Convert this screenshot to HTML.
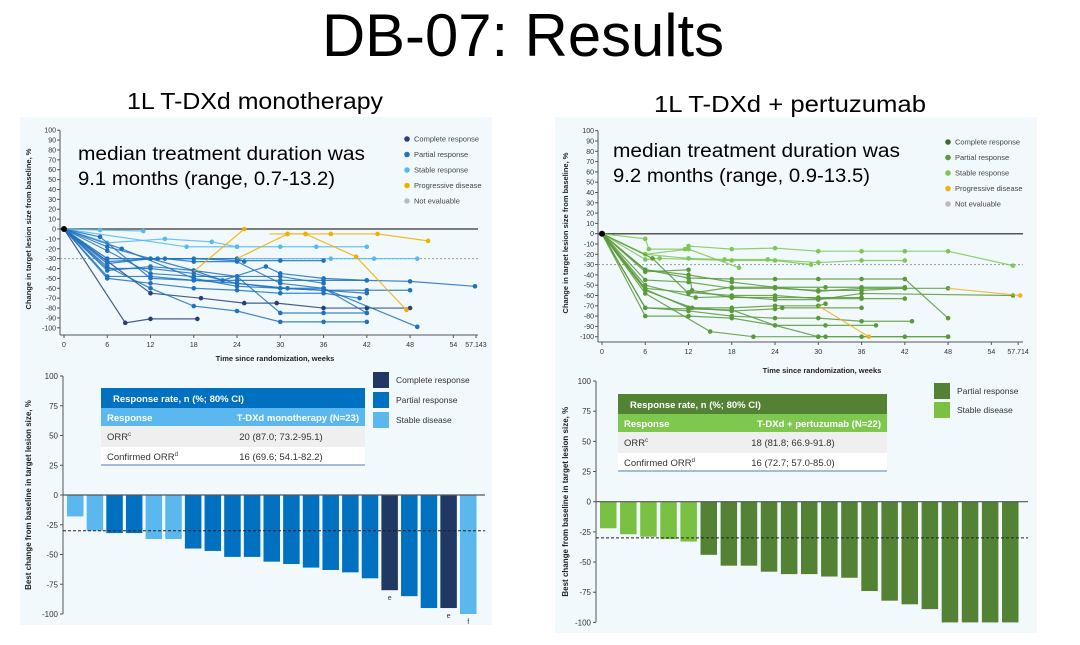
<!DOCTYPE html>
<html><head><meta charset="utf-8"><style>
body{margin:0;background:#fff;width:1080px;height:645px;overflow:hidden;font-family:"Liberation Sans",sans-serif}
svg{display:block}
</style></head><body>
<svg id="s" width="1080" height="645" xmlns="http://www.w3.org/2000/svg" font-family="Liberation Sans, sans-serif">
<rect x="20" y="117" width="472" height="250" fill="#f2f9fd"/>
<rect x="20" y="367" width="472" height="258" fill="#f2f9fd"/>
<rect x="555" y="117" width="482" height="258" fill="#f2f9fd"/>
<rect x="555" y="375" width="482" height="258" fill="#f2f9fd"/>
<text x="523" y="56" font-size="60" text-anchor="middle" fill="#000" textLength="402" lengthAdjust="spacingAndGlyphs">DB-07: Results</text>
<text x="255" y="109" font-size="23" text-anchor="middle" textLength="256" lengthAdjust="spacingAndGlyphs">1L T-DXd monotherapy</text>
<text x="790" y="112" font-size="23" text-anchor="middle" textLength="272" lengthAdjust="spacingAndGlyphs">1L T-DXd + pertuzumab</text>
<g id="g"></g>
</svg>
<script>
const g=document.getElementById('g');let h='';
function T(x,y,t,o){o=o||{};h+=`<text x="${x}" y="${y}" font-size="${o.s||7}" text-anchor="${o.a||'start'}" fill="${o.c||'#333'}" ${o.f?`font-family="${o.f}"`:''} ${o.tl?`textLength="${o.tl}" lengthAdjust="spacingAndGlyphs"`:''} ${o.b?'font-weight="bold"':''} ${o.r?`transform="rotate(-90 ${x} ${y})"`:''}>${t}</text>`;}
function L(x1,y1,x2,y2,c,w,d){h+=`<line x1="${x1}" y1="${y1}" x2="${x2}" y2="${y2}" stroke="${c}" stroke-width="${w||1}" ${d?`stroke-dasharray="${d}"`:''}/>`;}
function spider(o){
 const X=w=>o.x0+w*o.kx, Y=v=>o.y0-v*o.ky;
 L(o.ax,Y(100),o.ax,o.axy,'#555');L(o.ax,o.axy,o.xend,o.axy,'#555');
 for(let v=100;v>=-100;v-=10){L(o.ax-3,Y(v),o.ax,Y(v),'#555');T(o.ax-4,Y(v)+2.5,v,{s:7,a:'end'});}
 const ticks=[0,6,12,18,24,30,36,42,48,54];
 ticks.forEach(t=>{L(X(t),o.axy,X(t),o.axy+3,'#555');T(X(t),o.axy+12,t,{s:7,a:'middle'});});
 L(X(o.last),o.axy,X(o.last),o.axy+3,'#555');T(X(o.last),o.axy+12,o.lastl,{s:7,a:'middle'});
 L(o.ax,Y(0),o.xend,Y(0),'#555',1.5);L(o.ax,Y(-30),o.xend,Y(-30),'#999',1,'2,2');
 o.lines.forEach(([c,p])=>{h+=`<polyline fill="none" stroke="${c}" stroke-width="1.2" opacity="0.85" points="${p.map(q=>X(q[0])+','+Y(q[1])).join(' ')}"/>`;
  p.slice(1).forEach(q=>h+=`<circle cx="${X(q[0])}" cy="${Y(q[1])}" r="2.3" fill="${c}"/>`);});
 h+=`<circle cx="${X(0)}" cy="${Y(0)}" r="3" fill="#000"/>`;
 T(o.tx,o.ty,'Change in target lesion size from baseline, %',{s:7.5,b:1,a:'middle',r:1,c:'#222'});
 T(o.xt,o.xty,'Time since randomization, weeks',{s:7.5,b:1,a:'middle',c:'#222'});
 o.leg.forEach((l,i)=>{h+=`<circle cx="${o.lx}" cy="${o.ly+i*15.5}" r="2.8" fill="${l[0]}"/>`;T(o.lx+7,o.ly+i*15.5+2.5,l[1],{s:7.5,c:'#444'});});
 T(o.mx,o.my,o.m1,{s:19,c:'#000',tl:287});T(o.mx,o.my+25,o.m2,{s:19,c:'#000',tl:257});
}
const B='#1f72c0',LB='#5bb8ee',CR='#283f78',OR='#f0b000';
spider({x0:64,kx:7.21,y0:229,ky:0.988,ax:60,axy:335,xend:478,last:57.143,lastl:'57.143',tx:31,ty:229,xt:275,xty:361,
lx:407,ly:139,mx:78,my:160,m1:'median treatment duration was',m2:'9.1 months (range, 0.7-13.2)',
leg:[[CR,'Complete response'],[B,'Partial response'],[LB,'Stable response'],[OR,'Progressive disease'],['#bbb','Not evaluable']],
lines:[
[CR,[[0,0],[8.5,-95],[12,-91],[18.5,-91]]],
[CR,[[0,0],[12,-65],[19,-70],[25,-75],[29.5,-75],[36,-80],[42,-80],[48,-80]]],
[LB,[[0,0],[5,-1],[11,-2]]],
[LB,[[0,0],[6,-14],[14,-10],[20.5,-13],[24,-18],[30,-18],[35,-18],[42,-18]]],
[LB,[[0,0],[6,-30],[37,-30],[43,-30],[49,-30]]],
[LB,[[0,0],[17,-18],[24,-18]]],
[B,[[0,0],[6,-48],[12,-48],[18,-52],[24,-52],[30,-52],[36,-52],[42,-52],[48,-53],[57,-58]]],
[B,[[0,0],[6,-40],[12,-40],[18,-45],[24,-55],[30,-60],[36,-62],[42,-62],[48,-62]]],
[B,[[0,0],[6,-35],[12,-30],[18,-30],[24,-32],[30,-32],[36,-32]]],
[B,[[0,0],[6,-50],[12,-55],[18,-60],[24,-62],[30,-65],[36,-65],[41,-70]]],
[B,[[0,0],[6,-38],[12,-60],[18,-78],[24,-83],[30,-94],[36,-94],[42,-94]]],
[B,[[0,0],[6,-42],[12,-38],[18,-42],[24,-48],[30,-85],[36,-85],[42,-85]]],
[B,[[0,0],[8,-20],[18,-50],[24,-58],[30,-60],[36,-62],[42,-65]]],
[B,[[0,0],[6,-30],[14,-30],[18,-33],[24,-33],[30,-55],[36,-60],[49,-99]]],
[B,[[0,0],[6,-18],[12,-30],[18,-42],[22,-52],[28,-38],[30,-45],[36,-50],[42,-52]]],
[B,[[0,0],[6,-22],[12,-45],[18,-48],[24,-48],[30,-48],[36,-55]]],
[B,[[0,0],[6,-33],[13,-30],[24,-30],[25,-33]]],
[B,[[0,0],[5,-8],[12,-50],[18,-52],[24,-55],[31,-60],[36,-60],[42,-85]]],
[OR,[[18,-43],[25,0]]],
[OR,[[24,-30],[31,-5],[33.5,-5],[37,-5],[43.5,-5],[50.5,-12]]],
[OR,[[28.5,-5],[31,-5],[33.5,-5],[40.5,-28],[47.5,-82]]]
]});
const G='#5a9a3a',LG='#7dc855',DG='#3d6b2a',OR2='#f5b21b';
spider({x0:602,kx:7.21,y0:233.7,ky:1.03,ax:598,axy:342,xend:1023,last:57.714,lastl:'57.714',tx:568,ty:233,xt:822,xty:373,
lx:948,ly:142,mx:613,my:157,m1:'median treatment duration was',m2:'9.2 months (range, 0.9-13.5)',
leg:[[DG,'Complete response'],[G,'Partial response'],[LG,'Stable response'],[OR2,'Progressive disease'],['#bbb','Not evaluable']],
lines:[
[LG,[[0,0],[6,-5],[6.5,-15],[11.5,-15],[12,-12],[18,-15],[24,-14],[30,-17],[36,-17],[42,-17],[48,-17],[57,-31]]],
[LG,[[0,0],[6,-20],[12,-24],[17,-25],[23,-25],[30,-28],[36,-26],[42,-26]]],
[LG,[[0,0],[6,-25],[8,-24],[18,-26],[24,-26],[29,-30]]],
[LG,[[0,0],[6,-20],[12,-15],[19,-33]]],
[G,[[0,0],[6,-35],[12,-40],[18,-47],[24,-52],[30,-56],[36,-53],[42,-53],[48,-53]]],
[G,[[0,0],[6,-45],[12,-47],[18,-53],[24,-53],[30,-55],[36,-55],[42,-53]]],
[G,[[0,0],[6,-53],[12,-57],[18,-60],[24,-60],[30,-63],[36,-63],[42,-63]]],
[G,[[0,0],[6,-54],[12,-72],[18,-72],[24,-70],[30,-70],[31,-68]]],
[G,[[0,0],[6,-72],[12,-75],[18,-80],[24,-82],[30,-82],[36,-85],[43,-85]]],
[G,[[0,0],[6,-80],[12,-80],[18,-82],[24,-89],[31,-89],[38,-89]]],
[G,[[0,0],[6,-58],[15,-95],[21,-100],[30,-100],[36,-100],[48,-100]]],
[G,[[0,0],[6,-37],[12,-35],[12.5,-55],[18,-62],[24,-62],[30,-62],[36,-62]]],
[G,[[0,0],[6,-55],[12.5,-72],[18,-75],[24,-73],[25,-72],[36,-72]]],
[G,[[0,0],[6,-72],[18,-74],[24,-89],[30,-100],[31,-100],[42,-100],[48,-100]]],
[G,[[0,0],[6,-35],[12,-43],[18,-44],[24,-44],[30,-44],[36,-44],[42,-44],[48,-82]]],
[G,[[0,0],[7,-24],[12,-58],[18,-52],[24,-52],[31,-52],[36,-52],[42,-52]]],
[G,[[0,0],[6,-50],[13,-62],[18,-61],[24,-64],[30,-64],[36,-58],[57,-60]]],
[OR2,[[30,-70],[37,-100]]],
[OR2,[[48,-53],[58,-60]]]
]});
function wf(o){
 const Y=v=>o.y0-v*o.k;
 L(o.ax,Y(100),o.ax,Y(-100),'#555');
 [100,75,50,25,0,-25,-50,-75,-100].forEach(v=>{L(o.ax-3,Y(v),o.ax,Y(v),'#555');T(o.ax-5,Y(v)+3,v,{s:8,a:'end'});});
 o.bars.forEach((b,i)=>{const x=o.bx+i*o.sp;h+=`<rect x="${x}" y="${Y(0)}" width="${o.bw}" height="${-b[0]*o.k}" fill="${b[1]}"/>`;if(b[2])T(x+o.bw/2,Y(b[0])+10,b[2],{s:7,a:'middle'});});
 L(o.ax,Y(0),o.xend,Y(0),'#555',1.2);L(o.ax,Y(-30),o.xend,Y(-30),'#222',1,'3,2');
 T(o.tx,o.y0,'Best change from baseline in target lesion size, %',{s:8,b:1,a:'middle',r:1,c:'#222'});
 const t=o.tb;h+=`<rect x="${t.x}" y="${t.y}" width="${t.w}" height="20" fill="${t.c1}"/><rect x="${t.x}" y="${t.y+20}" width="${t.w}" height="18" fill="${t.c2}"/><rect x="${t.x}" y="${t.y+38}" width="${t.w}" height="21" fill="#efefef"/><rect x="${t.x}" y="${t.y+59}" width="${t.w}" height="18" fill="#fff"/>`;
 L(t.x,t.y+77,t.x+t.w,t.y+77,'#8aa7c8',1.5);
 T(t.x+12,t.y+14,'Response rate, n (%; 80% CI)',{s:9.5,b:1,c:'#fff'});
 T(t.x+6,t.y+33,'Response',{s:9.5,b:1,c:'#fff'});T(t.x+t.w-6,t.y+33,t.col,{s:9.5,b:1,c:'#fff',a:'end'});
 T(t.x+6,t.y+52,'ORR<tspan font-size="6" dy="-4">c</tspan>',{s:9.5});T(t.x+t.vx,t.y+52,t.v1,{s:9.5,a:'middle'});
 T(t.x+6,t.y+72,'Confirmed ORR<tspan font-size="6" dy="-4">d</tspan>',{s:9.5});T(t.x+t.vx,t.y+72,t.v2,{s:9.5,a:'middle'});
 o.leg.forEach((l,i)=>{h+=`<rect x="${o.lx}" y="${o.ly+i*o.ls}" width="16" height="16" fill="${l[0]}"/>`;T(o.lx+23,o.ly+i*o.ls+11,l[1],{s:8.5,c:'#333'});});
}
const P='#0070c0',S='#5bb8ee',C='#1f3864';
wf({y0:495,k:1.19,ax:63,xend:485,bx:67,sp:19.65,bw:16.5,tx:31,
bars:[[-18,S],[-30,S],[-32,P],[-32,P],[-37,S],[-37,S],[-45,P],[-47,P],[-52,P],[-52,P],[-56,P],[-58,P],[-61,P],[-63,P],[-65,P],[-70,P],[-80,C,'e'],[-85,P],[-95,P],[-95,C,'e'],[-100,S,'f']],
tb:{x:101,y:388,w:264,c1:'#0070c0',c2:'#5bb8ee',col:'T-DXd monotherapy (N=23)',vx:180,v1:'20 (87.0; 73.2-95.1)',v2:'16 (69.6; 54.1-82.2)'},
leg:[[C,'Complete response'],[P,'Partial response'],[S,'Stable disease']],lx:373,ly:372,ls:20});
const PG='#548235',SG='#7ac143';
wf({y0:501.7,k:1.207,ax:596,xend:1028,bx:600,sp:20.1,bw:16.5,tx:568,
bars:[[-22,SG],[-27,SG],[-29,SG],[-31,SG],[-33,SG],[-44,PG],[-53,PG],[-53,PG],[-58,PG],[-60,PG],[-60,PG],[-62,PG],[-63,PG],[-74,PG],[-82,PG],[-85,PG],[-89,PG],[-100,PG],[-100,PG],[-100,PG],[-100,PG]],
tb:{x:618,y:394,w:269,c1:'#548235',c2:'#7ec850',col:'T-DXd + pertuzumab (N=22)',vx:175,v1:'18 (81.8; 66.9-91.8)',v2:'16 (72.7; 57.0-85.0)'},
leg:[[PG,'Partial response'],[SG,'Stable disease']],lx:934,ly:383,ls:19});
g.innerHTML=h;
</script>
</body></html>
